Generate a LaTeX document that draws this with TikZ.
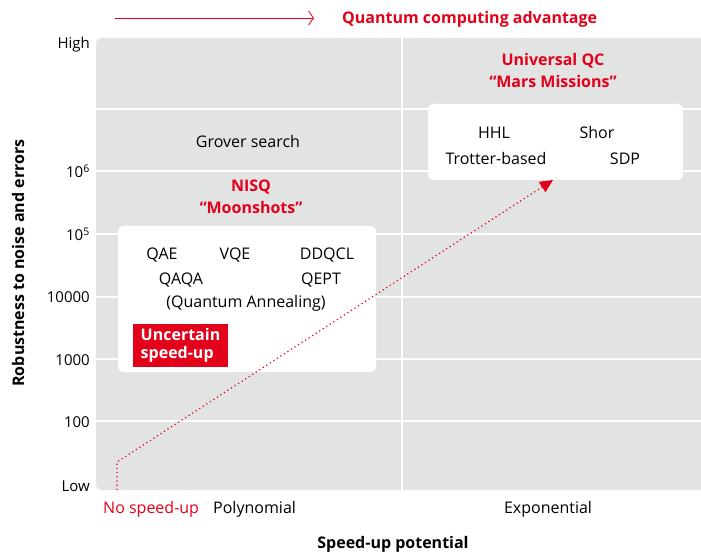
\documentclass[tikz,border=0pt]{standalone}
\usepackage{fontspec}
\setmainfont{Open Sans}
\usetikzlibrary{arrows.meta}
\definecolor{abbred}{RGB}{227,0,27}
\definecolor{panelgrey}{RGB}{226,227,227}
\tikzset{
	lbl/.style={anchor=center, inner sep=0pt, font=\fontsize{16}{18}\selectfont},
	tick/.style={anchor=east, inner sep=0pt, font=\fontsize{15}{17}\selectfont},
	redhead/.style={lbl, text=abbred, font=\fontsize{16}{22}\selectfont\bfseries, align=center},
	axistitle/.style={anchor=center, inner sep=0pt, font=\fontsize{16}{18}\selectfont\bfseries},
	whitebox/.style={fill=white, rounded corners=5pt, draw=none},
}
\begin{document}
\begin{tikzpicture}[x=1pt, y=-1pt]
	\useasboundingbox (0,0) rectangle (701,553);
	% Panel and grid:
	\fill[panelgrey, rounded corners=5pt] (96,38) rectangle (720,490);
	\fill[panelgrey] (650,38) rectangle (701,490);
	\foreach \yy in {109,171,234,297,359,421}
		\draw[white, line width=1.2pt] (96,\yy) -- (701,\yy);
	\draw[white, line width=1.2pt] (402,38) -- (402,490);
	% Top arrow and title:
	\coordinate (qa0) at (115,18);
	\coordinate (qa1) at (314,18);
	\draw[abbred, line width=0.8pt, -{Straight Barb[length=5pt, width=14pt]}] (qa0) -- (qa1);
	\node[redhead, anchor=west] (qtitle) at (342,19){Quantum computing advantage};
	% Tick labels:
	\node[tick] (thigh) at (90,45){High};
	\node[tick] (t6) at (90,171){10\textsuperscript{6}};
	\node[tick] (t5) at (90,234){10\textsuperscript{5}};
	\node[tick] (t4) at (90,297){10000};
	\node[tick] (t3) at (90,360){1000};
	\node[tick] (t2) at (90,422){100};
	\node[tick] (tlow) at (90,486){Low};
	\node[axistitle, rotate=90] (ytitle) at (18,263){Robustness to noise and errors};
	% Speed-up labels:
	\node[lbl, anchor=west, text=abbred] (nospeed) at (103,509){No speed-up};
	\node[lbl, anchor=west] (poly) at (213,509){Polynomial};
	\node[lbl] (expo) at (548,509){Exponential};
	\node[axistitle] (xtitle) at (393,544){Speed-up potential};
	% Left region:
	\node[lbl] (grover) at (248,142){Grover search};
	\node[redhead] (nisq) at (251,197){NISQ\\``Moonshots''};
	\node[whitebox, minimum width=258pt, minimum height=146pt] (nisqbox) at (247,299){};
	\node[lbl] (qae) at (162,255){QAE};
	\node[lbl] (vqe) at (235,255){VQE};
	\node[lbl] (ddqcl) at (327,255){DDQCL};
	\node[lbl] (qaqa) at (181,280){QAQA};
	\node[lbl] (qept) at (321,280){QEPT};
	\node[lbl] (anneal) at (246,303){(Quantum Annealing)};
	\node[fill=abbred, text=white, font=\fontsize{16}{18}\selectfont\bfseries, align=left, inner sep=0pt, minimum width=95pt, minimum height=43pt] (uncertain) at (180.5,345.5){Uncertain\\speed-up};
	% Right region:
	\node[redhead] (uqc) at (553,71){Universal QC\\``Mars Missions''};
	\node[whitebox, minimum width=255pt, minimum height=76pt] (uqcbox) at (555.5,142){};
	\node[lbl] (hhl) at (494,133){HHL};
	\node[lbl] (shor) at (597,133){Shor};
	\node[lbl] (trotter) at (496,159){Trotter-based};
	\node[lbl] (sdp) at (625,159){SDP};
	% Dotted path:
	\coordinate (dstart) at (117,490);
	\coordinate (dbend) at (117,462);
	\coordinate (dtip) at (553,180);
	\draw[abbred, line width=1.2pt, dash pattern=on 1.2pt off 3pt, -{Triangle[length=13pt, width=12pt]}] (dstart) -- (dbend) -- (dtip);
\end{tikzpicture}
\end{document}
